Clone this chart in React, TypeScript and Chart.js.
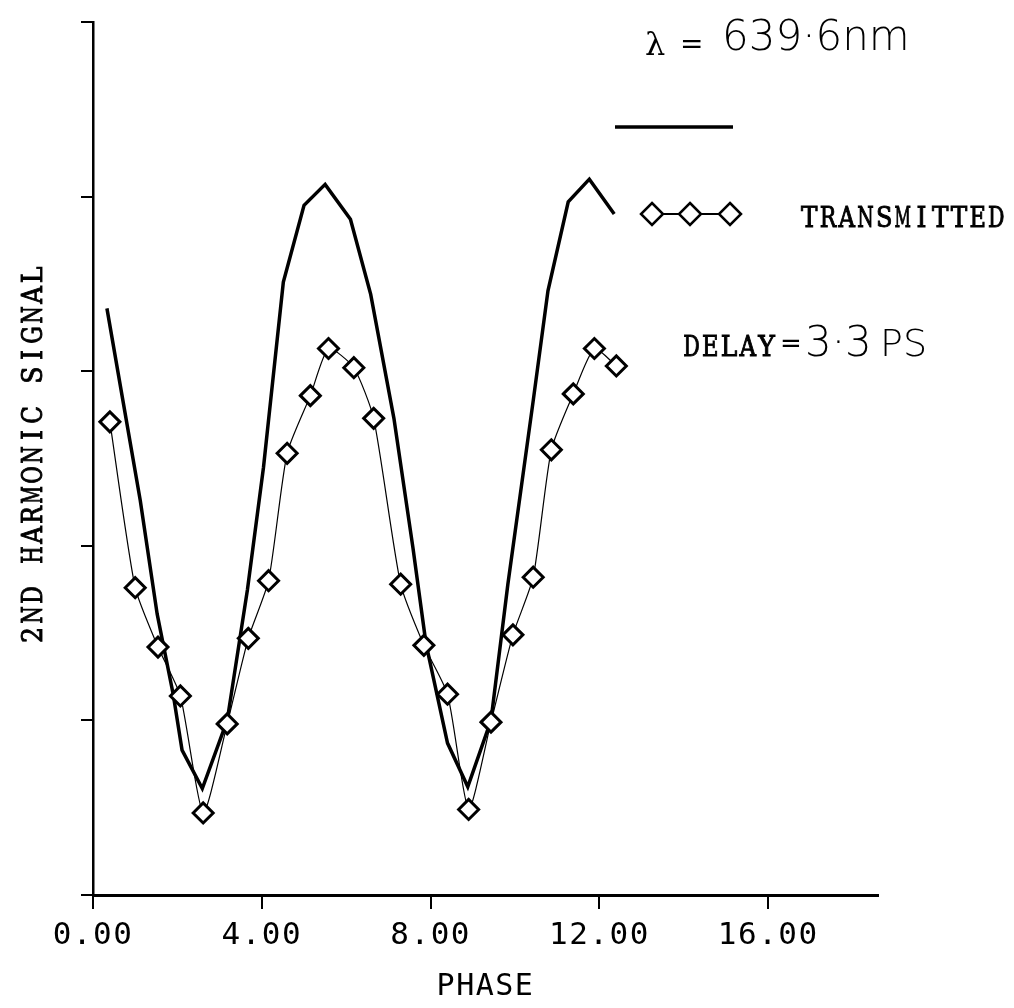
import React, { useEffect, useRef } from "react";
import { Chart, registerables } from "chart.js";

Chart.register(...registerables);

// Transmitted series (diamonds joined by a thin smoothed line)
const transmittedPhase = [0.4, 1.0, 1.54, 2.07, 2.61, 3.18, 3.68, 4.16, 4.6, 5.15, 5.58, 6.18, 6.65, 7.29, 7.84, 8.4, 8.9, 9.43, 9.95, 10.43, 10.86, 11.38, 11.88, 12.4];
const transmittedSignal = [2.71, 1.76, 1.42, 1.14, 0.47, 0.98, 1.47, 1.8, 2.53, 2.86, 3.13, 3.02, 2.73, 1.78, 1.43, 1.15, 0.49, 0.99, 1.49, 1.82, 2.55, 2.87, 3.13, 3.03];

// Solid curve (heavy polyline, no markers)
const solidPhase = [0.33, 0.71, 1.12, 1.52, 1.9, 2.11, 2.59, 3.18, 3.66, 4.04, 4.51, 5.0, 5.5, 6.1, 6.58, 7.13, 7.58, 7.89, 8.4, 8.88, 9.43, 9.83, 10.43, 10.78, 11.26, 11.76, 12.35];
const solidSignal = [3.36, 2.83, 2.26, 1.61, 1.15, 0.83, 0.61, 1.0, 1.75, 2.45, 3.51, 3.95, 4.07, 3.87, 3.44, 2.73, 1.99, 1.44, 0.87, 0.62, 1.0, 1.78, 2.83, 3.46, 3.97, 4.1, 3.9];

// Axis ranges and tick spacing
const xMax = 18.6;
const xStep = 4;
const yMax = 5;
const yStep = 1;

// Text
const xTitle = "PHASE";
const yTitle = "2ND HARMONIC SIGNAL";
const wavelengthSymbol = "λ";
const wavelengthValue = "639·6nm";
const transmittedLabel = "TRANSMITTED";
const delayLabel = "DELAY";
const delayValue = "3·3";
const delayUnit = "PS";

const INK = "#000";
const SLAB = "condensed 28px 'DejaVu Serif', serif";
const HAND = "200 42px 'DejaVu Sans', sans-serif";

function drawDiamond(ctx: CanvasRenderingContext2D, cx: number, cy: number, r: number) {
  ctx.beginPath();
  ctx.moveTo(cx, cy - r);
  ctx.lineTo(cx + r, cy);
  ctx.lineTo(cx, cy + r);
  ctx.lineTo(cx - r, cy);
  ctx.closePath();
  ctx.fillStyle = "#fff";
  ctx.fill();
  ctx.stroke();
}

// Typewriter-style text: every character centred in a cell of equal width,
// wide glyphs squeezed so they stay inside their cell, strokes thickened a little
function monoText(ctx: CanvasRenderingContext2D, text: string, x: number, y: number, cell: number) {
  for (let i = 0; i < text.length; i++) {
    const ch = text[i];
    const w = ctx.measureText(ch).width;
    const sx = w > 0 ? Math.min(1, (cell * 0.88) / w) : 1;
    ctx.save();
    ctx.textAlign = "center";
    ctx.translate(x + cell * (i + 0.5), y);
    ctx.scale(sx, 1);
    ctx.lineWidth = 0.9;
    ctx.fillText(ch, 0, 0);
    ctx.strokeText(ch, 0, 0);
    ctx.restore();
  }
}

// Axis-label letter spacing plus the notes and legend in the upper right
const notesPlugin = {
  id: "notes",
  beforeDraw(chart: Chart) {
    (chart.ctx as any).letterSpacing = "1.5px";
  },
  afterDraw(chart: Chart) {
    const ctx = chart.ctx;
    ctx.save();
    (ctx as any).letterSpacing = "0px";
    ctx.fillStyle = INK;
    ctx.strokeStyle = INK;
    ctx.textBaseline = "alphabetic";
    ctx.textAlign = "left";

    // vertical axis title
    ctx.save();
    ctx.translate(42, 455);
    ctx.rotate(-Math.PI / 2);
    ctx.font = SLAB;
    monoText(ctx, yTitle, -190, 0, 20);
    ctx.restore();

    ctx.font = "32px 'DejaVu Serif', serif";
    ctx.fillText(wavelengthSymbol, 645, 55);
    ctx.font = "28px 'DejaVu Sans', sans-serif";
    ctx.fillText("=", 680, 53);
    ctx.font = HAND;
    ctx.fillText(wavelengthValue, 722, 50);

    // solid-line entry
    ctx.lineWidth = 3.5;
    ctx.beginPath();
    ctx.moveTo(615, 127);
    ctx.lineTo(733, 127);
    ctx.stroke();

    // diamond entry
    const dx = [652, 690, 730];
    ctx.lineWidth = 2;
    ctx.beginPath();
    ctx.moveTo(dx[0], 214);
    ctx.lineTo(dx[2], 214);
    ctx.stroke();
    ctx.lineWidth = 2.5;
    dx.forEach((x) => drawDiamond(ctx, x, 214, 11));

    ctx.fillStyle = INK;
    ctx.font = SLAB;
    monoText(ctx, transmittedLabel, 800, 227, 18.7);
    monoText(ctx, delayLabel, 682, 356, 18.8);
    ctx.font = "26px 'DejaVu Sans', sans-serif";
    ctx.fillText("=", 780, 352);
    ctx.font = HAND;
    ctx.fillText(delayValue, 805, 356);
    ctx.font = "200 38px 'DejaVu Sans', sans-serif";
    ctx.fillText(delayUnit, 880, 356);
    ctx.restore();
  },
};

export default function App() {
  const canvasRef = useRef<HTMLCanvasElement | null>(null);

  useEffect(() => {
    const canvas = canvasRef.current;
    if (!canvas) return;
    const chart = new Chart(canvas, {
      type: "scatter",
      data: {
        datasets: [
          {
            label: transmittedLabel,
            data: transmittedPhase.map((x, i) => ({ x, y: transmittedSignal[i] })),
            showLine: true,
            borderColor: INK,
            borderWidth: 1.2,
            tension: 0.2,
            pointStyle: "rectRot",
            pointRadius: 10,
            pointBorderWidth: 3,
            pointBackgroundColor: "#fff",
            pointBorderColor: INK,
            order: 0,
          },
          {
            label: "solid",
            data: solidPhase.map((x, i) => ({ x, y: solidSignal[i] })),
            showLine: true,
            borderColor: INK,
            borderWidth: 3.5,
            pointRadius: 0,
            tension: 0,
            order: 1,
          },
        ],
      },
      options: {
        responsive: false,
        animation: false,
        events: [],
        layout: { padding: { top: 22, right: 136, left: 0, bottom: 0 } },
        plugins: {
          legend: { display: false },
          tooltip: { enabled: false },
        },
        scales: {
          x: {
            type: "linear",
            min: 0,
            max: xMax,
            afterFit(scale: any) {
              scale.height = 113;
            },
            ticks: {
              stepSize: xStep,
              includeBounds: false,
              maxRotation: 0,
              autoSkip: false,
              padding: 8,
              color: INK,
              font: { family: "'DejaVu Sans Mono', monospace", size: 31 },
              callback: (v: any) => Number(v).toFixed(2),
            },
            grid: {
              drawOnChartArea: false,
              drawTicks: true,
              tickLength: 14,
              color: INK,
              lineWidth: 2,
            },
            border: { display: true, color: INK, width: 3 },
            title: {
              display: true,
              text: xTitle,
              color: INK,
              font: { family: "'DejaVu Sans Mono', monospace", size: 30 },
              padding: { top: 0, bottom: 3 },
            },
          },
          y: {
            type: "linear",
            min: 0,
            max: yMax,
            afterFit(scale: any) {
              scale.width = 93;
            },
            ticks: { stepSize: yStep, display: false },
            grid: {
              drawOnChartArea: false,
              drawTicks: true,
              tickLength: 12,
              color: INK,
              lineWidth: 2,
            },
            border: { display: true, color: INK, width: 2.5 },
            title: { display: false, text: yTitle },
          },
        },
      },
      plugins: [notesPlugin],
    });
    return () => chart.destroy();
  }, []);

  return (
    <div style={{ position: "fixed", left: 0, top: 0, width: 1014, height: 1008, background: "#fff" }}>
      <canvas ref={canvasRef} width={1014} height={1008} />
    </div>
  );
}
